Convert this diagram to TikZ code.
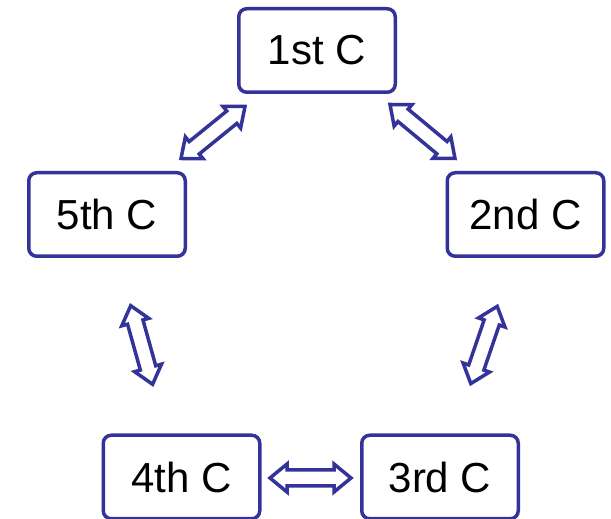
\documentclass[tikz,border=0pt]{standalone}
\usepackage{fontspec}
\setmainfont{Liberation Sans}
\usepackage{tikz}
\usetikzlibrary{calc}
\definecolor{cblue}{RGB}{51,51,153}

\begin{document}
\begin{tikzpicture}[x=1pt,y=1pt,
  cbox/.style={draw=cblue,line width=3.5pt,rounded corners=8pt,minimum width=156.5pt,minimum height=83.5pt,inner sep=0pt,font=\fontsize{42}{50}\selectfont},
  dblarrow/.style={draw=cblue,line width=3.5pt,fill=white}]

\useasboundingbox (0,0) rectangle (611,519);

\node [cbox] (c1) at (317,468.5) {1st C};
\node [cbox] (c2) at (525.5,304.5) {2nd C};
\node [cbox] (c3) at (440,42) {3rd C};
\node [cbox] (c4) at (181.5,42) {4th C};
\node [cbox] (c5) at (107,304.5) {5th C};

\coordinate (u1) at (245,412.5);
\coordinate (v1) at (181,360.5);
\coordinate (u2) at (390,414.5);
\coordinate (v2) at (455,360.5);
\coordinate (u3) at (130.7,213.3);
\coordinate (v3) at (152.6,134.7);
\coordinate (u4) at (497.2,212.6);
\coordinate (v4) at (470.8,135.4);
\coordinate (u5) at (270,41);
\coordinate (v5) at (351,41);

\foreach \s/\t in {u1/v1,u2/v2,u3/v3,u4/v4,u5/v5}
  \draw [dblarrow] (\s) -- ($(\s)!17pt!(\t)!14pt!90:(\t)$) -- ($(\s)!17pt!(\t)!8pt!90:(\t)$)
    -- ($(\t)!17pt!(\s)!8pt!-90:(\s)$) -- ($(\t)!17pt!(\s)!14pt!-90:(\s)$) -- (\t)
    -- ($(\t)!17pt!(\s)!14pt!90:(\s)$) -- ($(\t)!17pt!(\s)!8pt!90:(\s)$)
    -- ($(\s)!17pt!(\t)!8pt!-90:(\t)$) -- ($(\s)!17pt!(\t)!14pt!-90:(\t)$) -- cycle;

\end{tikzpicture}
\end{document}
